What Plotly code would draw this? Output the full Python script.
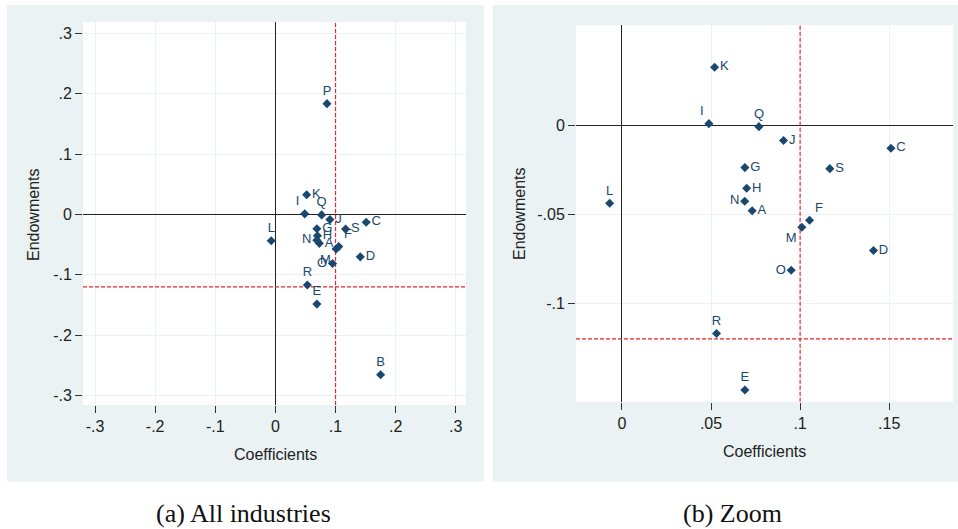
import plotly.graph_objects as go

# Industry-level decomposition: coefficient effect vs endowment effect
industries = ["A", "B", "C", "D", "E", "F", "G", "H", "I", "J",
              "K", "L", "M", "N", "O", "P", "Q", "R", "S"]
coefficients = [0.0731, 0.175, 0.151, 0.1412, 0.069, 0.1053, 0.069, 0.070, 0.0488, 0.0907,
                0.052, -0.0069, 0.101, 0.0689, 0.095, 0.0858, 0.0769, 0.0531, 0.1167]
endowments = [-0.048, -0.2658, -0.0129, -0.0704, -0.1487, -0.0534, -0.0238, -0.0354, 0.0009, -0.0086,
              0.0326, -0.0438, -0.0573, -0.0427, -0.0815, 0.1836, -0.0008, -0.117, -0.0244]
label_pos = ["middle right", "top center", "middle right", "middle right", "top center",
             "top right", "middle right", "middle right", "top left", "middle right",
             "middle right", "top center", "bottom left", "middle left", "middle left",
             "top center", "top center", "top center", "middle right"]

# Reference lines (aggregate values)
ref_coef = 0.1
ref_endow = -0.12

# Industries shown in the zoomed panel
zoom_excluded = ["B", "P"]

ticks_all = [-0.3, -0.2, -0.1, 0.0, 0.1, 0.2, 0.3]
ticks_zoom_x = [0.0, 0.05, 0.1, 0.15]
ticks_zoom_y = [-0.1, -0.05, 0.0]

captions = ["(a) All industries", "(b) Zoom"]

W, H = 958, 529
BG = "#eaf2f3"
NAVY = "#1a476f"
RED = "#e8262a"
FONT = "Liberation Sans, Arial, sans-serif"

panels = [
    dict(xa="x", ya="y", xrange=[-0.32, 0.317], yrange=[-0.316, 0.319],
         px_dom=(83, 466), py_dom=(405, 22), bg=(7, 484),
         xticks=ticks_all, yticks=ticks_all, keep=industries,
         xtitle=(275, 454), ytitle=(33, 215), caption_x=243),
    dict(xa="x2", ya="y2", xrange=[-0.0258, 0.186], yrange=[-0.1553, 0.0563],
         px_dom=(576, 953.3), py_dom=(401.7, 25), bg=(493, 958),
         xticks=ticks_zoom_x, yticks=ticks_zoom_y,
         keep=[k for k in industries if k not in zoom_excluded],
         xtitle=(764.7, 451), ytitle=(519, 214), caption_x=732.5),
]


def stata_fmt(v):
    s = f"{v:g}"
    if s.startswith("0.") and len(s) > 2:
        s = s[1:]
    elif s.startswith("-0."):
        s = "-" + s[2:]
    return s


def px_x(p):
    return p / W


def px_y(p):
    return 1 - p / H


fig = go.Figure()

axis_common = dict(
    showgrid=True, gridcolor=BG, gridwidth=1,
    zeroline=True, zerolinecolor="#222222", zerolinewidth=1,
    showline=False, ticks="outside", ticklen=7, tickwidth=1, tickcolor="#333333",
    tickfont=dict(family=FONT, size=16, color="#222222"),
    fixedrange=True,
)

shapes = []
annotations = []
title_font = dict(family=FONT, size=16, color="#222222")
layout_axes = {}
dash_style = dict(color=RED, width=1.2, dash="4px,2px")

for n, p in enumerate(panels):
    xa, ya = p["xa"], p["ya"]
    # dashed reference lines, drawn beneath the markers
    fig.add_trace(go.Scatter(
        x=[ref_coef, ref_coef], y=p["yrange"], mode="lines", line=dash_style,
        xaxis=xa, yaxis=ya, showlegend=False, hoverinfo="skip"))
    fig.add_trace(go.Scatter(
        x=p["xrange"], y=[ref_endow, ref_endow], mode="lines", line=dash_style,
        xaxis=xa, yaxis=ya, showlegend=False, hoverinfo="skip"))

    idx = [i for i, k in enumerate(industries) if k in p["keep"]]
    fig.add_trace(go.Scatter(
        x=[coefficients[i] for i in idx], y=[endowments[i] for i in idx],
        text=[industries[i] for i in idx], mode="markers+text",
        textposition=[label_pos[i] for i in idx],
        marker=dict(symbol="diamond", size=7, color=NAVY),
        textfont=dict(family=FONT, size=13, color=NAVY),
        xaxis=xa, yaxis=ya, showlegend=False, cliponaxis=True))

    xkey = "xaxis" if xa == "x" else "xaxis" + xa[1:]
    ykey = "yaxis" if ya == "y" else "yaxis" + ya[1:]
    layout_axes[xkey] = dict(axis_common, domain=[px_x(p["px_dom"][0]), px_x(p["px_dom"][1])],
                             range=p["xrange"], tickvals=p["xticks"],
                             ticktext=[stata_fmt(v) for v in p["xticks"]], anchor=ya)
    layout_axes[ykey] = dict(axis_common, domain=[px_y(p["py_dom"][0]), px_y(p["py_dom"][1])],
                             range=p["yrange"], tickvals=p["yticks"],
                             ticktext=[stata_fmt(v) for v in p["yticks"]], anchor=xa)

    # graph region background, then white plot region
    shapes.append(dict(type="rect", xref="paper", yref="paper",
                       x0=px_x(p["bg"][0]), x1=px_x(p["bg"][1]), y0=px_y(481.5), y1=px_y(5),
                       fillcolor=BG, line=dict(width=0), layer="below"))
    shapes.append(dict(type="rect", xref="paper", yref="paper",
                       x0=px_x(p["px_dom"][0]), x1=px_x(p["px_dom"][1]),
                       y0=px_y(p["py_dom"][0]), y1=px_y(p["py_dom"][1]),
                       fillcolor="white", line=dict(width=0), layer="below"))

    annotations.append(dict(text="Coefficients", xref="paper", yref="paper",
                            x=px_x(p["xtitle"][0]), y=px_y(p["xtitle"][1]), showarrow=False,
                            xanchor="center", yanchor="middle", font=title_font))
    annotations.append(dict(text="Endowments", xref="paper", yref="paper",
                            x=px_x(p["ytitle"][0]), y=px_y(p["ytitle"][1]), showarrow=False,
                            textangle=-90, xanchor="center", yanchor="middle", font=title_font))
    annotations.append(dict(text=captions[n], xref="paper", yref="paper",
                            x=px_x(p["caption_x"]), y=px_y(513), showarrow=False,
                            xanchor="center", yanchor="middle",
                            font=dict(family="Liberation Serif, Times New Roman, serif",
                                      size=26, color="#111111")))

fig.update_layout(
    width=W, height=H, margin=dict(l=0, r=0, t=0, b=0),
    paper_bgcolor="white", plot_bgcolor="white",
    font=dict(family=FONT),
    shapes=shapes, annotations=annotations,
    **layout_axes,
)

fig.write_html("out.html")
